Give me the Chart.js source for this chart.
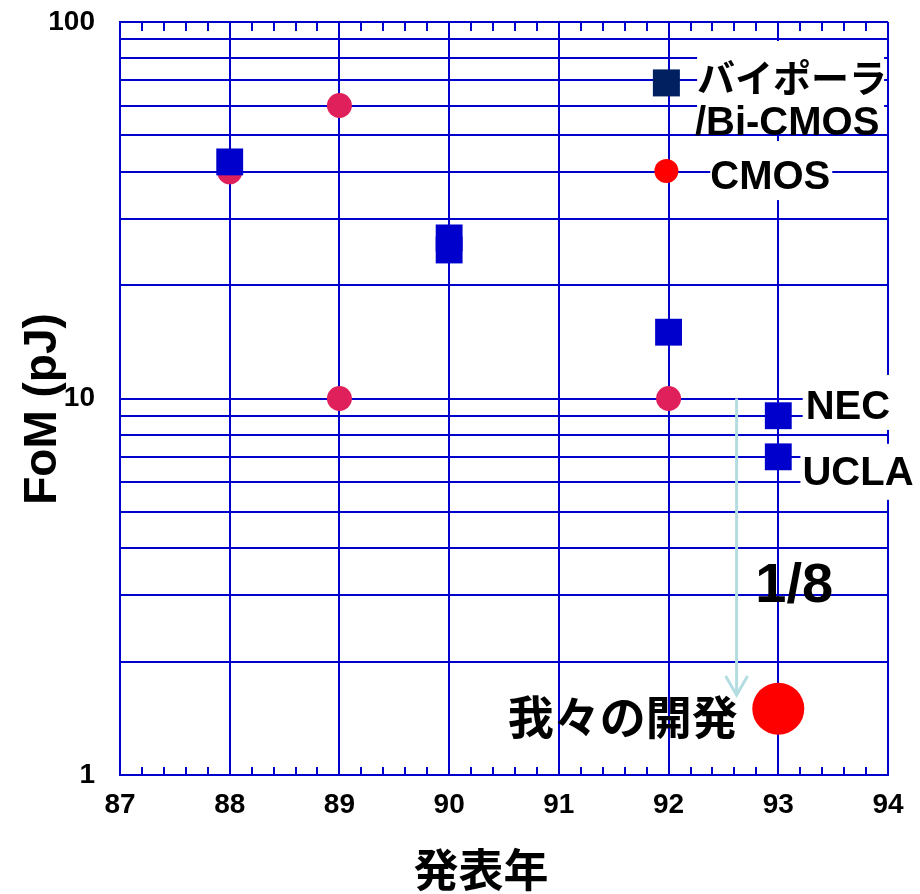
<!DOCTYPE html>
<html>
<head>
<meta charset="utf-8">
<script src="https://cdn.jsdelivr.net/npm/chart.js@4.4.1/dist/chart.umd.min.js"></script>
<style>
  html, body { margin: 0; padding: 0; background: #fff; }
  #wrap { width: 920px; height: 894px; position: relative; }
</style>
</head>
<body>
<div id="wrap"><canvas id="fomChart"></canvas></div>
<script>
// axis ticks
const xTickValues = [87, 88, 89, 90, 91, 92, 93, 94];
const yGridValues = [1, 2, 3, 4, 5, 6, 7, 8, 9, 10, 20, 30, 40, 50, 60, 70, 80, 90, 100];
const yLabelValues = [1, 10, 100];

// series (year, FoM in pJ)
const bipolarYears = [88, 90, 90, 92, 93, 93];
const bipolarFoM = [42.5, 26.7, 24.8, 15, 9, 7];
const cmosYears = [88, 89, 89, 92];
const cmosFoM = [40, 60, 10, 10];
const oursYears = [93];
const oursFoM = [1.5];

// annotation texts
const labelTexts = ['バイポーラ', '/Bi-CMOS', 'CMOS', 'NEC', 'UCLA', '1/8', '我々の開発'];

const GRID = '#0000cc';
const LATIN = '"Liberation Sans", Arial, sans-serif';
const CJK = '"Noto Sans CJK JP", sans-serif';

// where each annotation goes (data coords) and how it looks
const labelPlacement = [
  { x: 92.26, y: 71.0, font: `bold 38px ${CJK}`, align: 'left', box: [0, -37, 187, 55] },
  { x: 92.24, y: 53.6, font: `bold 40px ${LATIN}`, align: 'left' },
  { x: 92.38, y: 38.5, font: `bold 40px ${LATIN}`, align: 'left', box: [0, -37, 122, 22] },
  { x: 93.25, y: 9.44, font: `bold 40px ${LATIN}`, align: 'left', box: [-3, -33, 86, 22] },
  { x: 93.22, y: 6.31, font: `bold 40px ${LATIN}`, align: 'left', box: [-2, -30, 112, 26] },
  { x: 92.79, y: 3.16, font: `bold 56px ${LATIN}`, align: 'left' },
  { x: 92.63, y: 1.426, font: `bold 46px ${CJK}`, align: 'right' },
];

const toPoints = (xs, ys) => xs.map((x, i) => ({ x, y: ys[i] }));

const decor = {
  id: 'decor',
  afterDatasetsDraw(chart) {
    const { ctx, chartArea: a } = chart;
    const x = chart.scales.x, y = chart.scales.y;
    ctx.save();

    // minor ticks on top and bottom edges
    ctx.strokeStyle = GRID;
    ctx.lineWidth = 2;
    for (let i = 0; i < xTickValues.length - 1; i++) {
      for (let k = 1; k < 5; k++) {
        const px = Math.round(x.getPixelForValue(xTickValues[i] + k * 0.2));
        ctx.beginPath();
        ctx.moveTo(px, a.bottom); ctx.lineTo(px, a.bottom - 8);
        ctx.moveTo(px, a.top); ctx.lineTo(px, a.top + 9);
        ctx.stroke();
      }
    }

    // 1/8 arrow
    const ax = x.getPixelForValue(92.62);
    const ay0 = y.getPixelForValue(10), ay1 = y.getPixelForValue(1.63);
    ctx.strokeStyle = '#b4dde2';
    ctx.lineWidth = 3;
    ctx.beginPath();
    ctx.moveTo(ax, ay0); ctx.lineTo(ax, ay1);
    ctx.moveTo(ax - 11, ay1 - 19); ctx.lineTo(ax, ay1); ctx.lineTo(ax + 11, ay1 - 19);
    ctx.stroke();

    // labels with white backing
    ctx.textBaseline = 'middle';
    ctx.textAlign = 'left';
    labelTexts.forEach((text, i) => {
      const p = labelPlacement[i];
      ctx.font = p.font;
      const px = x.getPixelForValue(p.x), py = y.getPixelForValue(p.y);
      const w = ctx.measureText(text).width;
      const left = p.align === 'right' ? px - w : px;
      if (p.box) {
        ctx.fillStyle = '#fff';
        ctx.fillRect(left + p.box[0], py + p.box[1], p.box[2] - p.box[0], p.box[3] - p.box[1]);
      }
      ctx.fillStyle = '#000';
      ctx.fillText(text, left, py);
    });

    // legend markers
    const lx = x.getPixelForValue(91.98);
    const sq = y.getPixelForValue(68.9);
    ctx.fillStyle = '#002060';
    ctx.fillRect(lx - 13.5, sq - 13.5, 27, 27);
    ctx.fillStyle = '#ff0000';
    ctx.beginPath();
    ctx.arc(lx, y.getPixelForValue(40.2), 12, 0, Math.PI * 2);
    ctx.fill();

    // axis titles
    ctx.fillStyle = '#000';
    ctx.textAlign = 'center';
    ctx.font = `bold 46px ${LATIN}`;
    ctx.save();
    ctx.translate(43.5, 409);
    ctx.rotate(-Math.PI / 2);
    ctx.fillText('FoM (pJ)', 0, 0);
    ctx.restore();
    ctx.font = `bold 45px ${CJK}`;
    ctx.fillText('発表年', 481, 870);

    ctx.restore();
  }
};

new Chart(document.getElementById('fomChart'), {
  type: 'scatter',
  data: {
    datasets: [
      {
        label: 'バイポーラ/Bi-CMOS',
        data: toPoints(bipolarYears, bipolarFoM),
        pointStyle: 'rect',
        pointRadius: 19,
        borderWidth: 0,
        backgroundColor: '#0000cc',
      },
      {
        label: 'CMOS',
        data: toPoints(cmosYears, cmosFoM),
        pointStyle: 'circle',
        pointRadius: 12.5,
        borderWidth: 0,
        backgroundColor: '#e0205a',
      },
      {
        label: '我々の開発',
        data: toPoints(oursYears, oursFoM),
        pointStyle: 'circle',
        pointRadius: 26,
        borderWidth: 0,
        backgroundColor: '#ff0000',
      },
    ],
  },
  options: {
    responsive: true,
    maintainAspectRatio: false,
    animation: false,
    layout: { autoPadding: false, padding: { top: 22, right: 32, left: 0, bottom: 0 } },
    plugins: {
      legend: { display: false },
      tooltip: { enabled: false },
    },
    scales: {
      x: {
        type: 'linear',
        min: 87,
        max: 94,
        afterFit: s => { s.height = 119; },
        afterBuildTicks: s => { s.ticks = xTickValues.map(v => ({ value: v })); },
        ticks: {
          autoSkip: false,
          maxRotation: 0,
          padding: 13,
          color: '#000',
          font: { family: LATIN, size: 28, weight: 'bold' },
          callback: v => String(v),
        },
        grid: { color: GRID, lineWidth: 2, drawTicks: false },
        border: { color: GRID, width: 2 },
      },
      y: {
        type: 'logarithmic',
        min: 1,
        max: 100,
        // fixed width; tick padding is only meant to push labels left
        afterFit: s => { s.width = 120; s.paddingTop = 0; s.paddingBottom = 0; },
        afterBuildTicks: s => { s.ticks = yGridValues.map(v => ({ value: v })); },
        ticks: {
          autoSkip: false,
          padding: 25,
          color: '#000',
          font: { family: LATIN, size: 28, weight: 'bold' },
          callback: v => (yLabelValues.includes(v) ? String(v) : ''),
        },
        grid: { color: GRID, lineWidth: 2, drawTicks: false },
        border: { color: GRID, width: 2 },
      },
    },
  },
  plugins: [decor],
});
</script>
</body>
</html>
